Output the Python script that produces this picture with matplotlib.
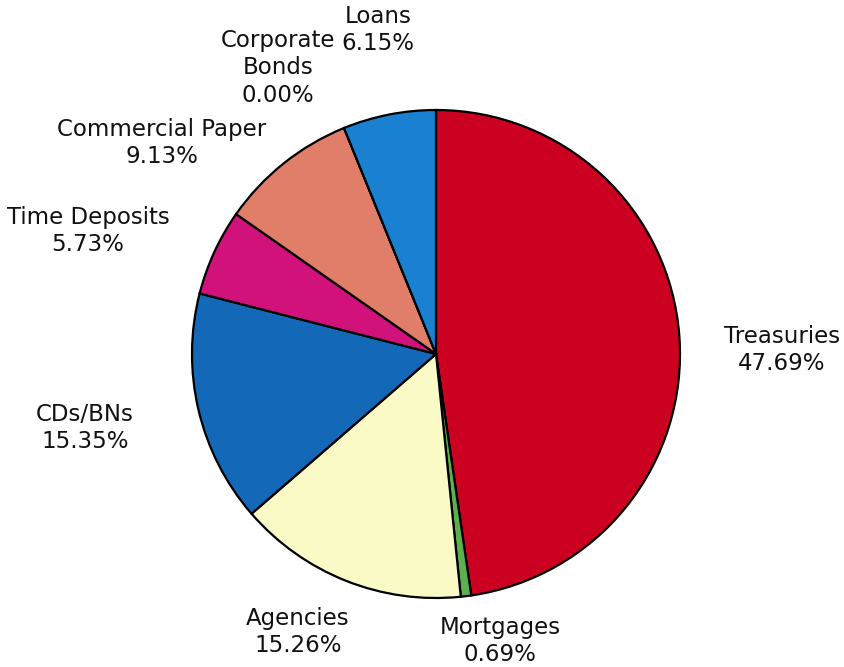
import matplotlib.pyplot as plt

# Portfolio composition (percent), clockwise from 12 o'clock
categories = ['Treasuries', 'Mortgages', 'Agencies', 'CDs/BNs', 'Time Deposits',
              'Commercial Paper', 'Corporate Bonds', 'Loans']
shares = [47.69, 0.69, 15.26, 15.35, 5.73, 9.13, 0.00, 6.15]
label_text = ['Treasuries', 'Mortgages', 'Agencies', 'CDs/BNs', 'Time Deposits',
              'Commercial Paper', 'Corporate\nBonds', 'Loans']

colors = ['#CC0020', '#5DB04E', '#FAFAC6', '#1468B8', '#D0127A',
          '#E07E6A', '#888888', '#1A80D2']

# label centres in pixel coords (x, y from top)
label_pos = [(782, 350), (500, 641), (298, 632), (85, 428), (88, 231),
             (162, 143), (278, 68), (378, 30)]

W, H = 845, 667
fig = plt.figure(figsize=(W / 100, H / 100), dpi=100)
ax = fig.add_axes([0, 0, 1, 1])

ax.pie(shares, colors=colors, startangle=90, counterclock=False,
       center=(436, H - 354), radius=244, frame=True,
       wedgeprops=dict(edgecolor='black', linewidth=1.6))
ax.set_xlim(0, W)
ax.set_ylim(0, H)
ax.set_aspect('equal')
ax.axis('off')

for txt, val, (x, y) in zip(label_text, shares, label_pos):
    ax.text(x, H - y, f'{txt}\n{val:.2f}%', ha='center', va='center',
            fontsize=16.5, family='DejaVu Sans', linespacing=1.25,
            color='#111111')

fig.savefig('out.png', dpi=100, facecolor='white')
